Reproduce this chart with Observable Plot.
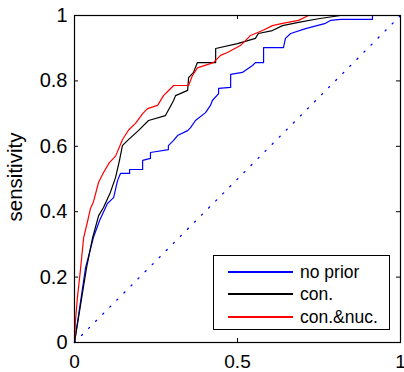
<!DOCTYPE html>
<html><head><meta charset="utf-8">
<script src="https://cdn.jsdelivr.net/npm/d3@7"></script>
<script src="https://cdn.jsdelivr.net/npm/@observablehq/plot@0.6"></script>
<style>
body{margin:0;background:#fff;font-family:"Liberation Sans",Arial,sans-serif}
#wrap{position:relative;width:404px;height:372px;overflow:hidden}
#legend{position:absolute;left:213px;top:255px;width:175px;height:73px;border:1px solid #000;background:#fff}
.row{position:absolute;left:0;width:175px;height:20px}
.ln{position:absolute;left:14px;width:65px;top:9px;height:1.5px}
.tx{position:absolute;left:86px;top:0;font-size:17.5px;line-height:20px;color:#000;white-space:nowrap}
#ylab{position:absolute;left:15px;top:177px;transform:translate(-50%,-50%) rotate(-90deg);font-size:20.5px;line-height:20.5px;white-space:nowrap;color:#000}
</style></head>
<body>
<div id="wrap"><div id="chart"></div><div id="ylab"></div><div id="legend"></div></div>
<script>
const seriesNames = ["no prior", "con.", "con.&nuc."];
const seriesColors = ["#0000ff", "#000000", "#ff0000"];

const noPriorFpr = [0,0.034,0.058,0.077,0.101,0.12,0.132,0.141,0.169,0.169,0.209,0.209,0.233,0.233,0.288,0.288,0.304,0.316,0.347,0.356,0.371,0.402,0.417,0.423,0.442,0.442,0.479,0.479,0.515,0.546,0.555,0.58,0.58,0.641,0.647,0.663,0.709,0.77,0.785,0.816,0.914,0.914,1];
const noPriorTpr = [0,0.229,0.321,0.373,0.425,0.443,0.495,0.517,0.517,0.529,0.529,0.557,0.563,0.581,0.59,0.602,0.618,0.633,0.648,0.657,0.679,0.703,0.725,0.74,0.761,0.777,0.78,0.82,0.826,0.847,0.856,0.856,0.902,0.902,0.93,0.945,0.96,0.976,0.985,0.988,0.988,1,1];

const conFpr = [0,0.037,0.055,0.074,0.089,0.11,0.126,0.138,0.147,0.163,0.196,0.227,0.279,0.304,0.31,0.347,0.35,0.365,0.377,0.433,0.433,0.5,0.555,0.564,0.607,0.638,0.687,0.748,0.816,1];
const conTpr = [0,0.229,0.318,0.388,0.413,0.459,0.505,0.557,0.602,0.618,0.648,0.679,0.694,0.74,0.755,0.771,0.81,0.826,0.856,0.856,0.899,0.914,0.93,0.945,0.954,0.969,0.979,0.99,1,1];

const conNucFpr = [0,0.003,0.009,0.018,0.028,0.04,0.049,0.058,0.074,0.089,0.107,0.126,0.147,0.166,0.187,0.209,0.224,0.255,0.273,0.288,0.304,0.35,0.362,0.377,0.426,0.448,0.469,0.509,0.54,0.577,0.607,0.638,0.687,0.718,1];
const conNucTpr = [0,0.067,0.138,0.22,0.32,0.37,0.41,0.43,0.49,0.52,0.55,0.57,0.62,0.65,0.67,0.70,0.715,0.725,0.755,0.77,0.786,0.786,0.817,0.84,0.856,0.878,0.887,0.908,0.939,0.954,0.969,0.976,0.985,1,1];

const diagX = [0, 1];
const diagY = [0, 1];
const xTicks = [0, 0.5, 1];
const yTicks = [0, 0.2, 0.4, 0.6, 0.8, 1];
const yLabel = "sensitivity";

const W = 404, H = 372, mL = 74, mR = 4, mT = 15, mB = 30;
const iW = W - mL - mR, iH = H - mT - mB, tk = 4;

const fprs = [noPriorFpr, conFpr, conNucFpr];
const tprs = [noPriorTpr, conTpr, conNucTpr];
const rows = [];
seriesNames.forEach((s, i) => fprs[i].forEach((f, j) => rows.push({series: s, fpr: f, tpr: tprs[i][j]})));
const diag = diagX.map((x, i) => ({x, y: diagY[i]}));

const chart = Plot.plot({
  width: W, height: H,
  marginLeft: mL, marginRight: mR, marginTop: mT, marginBottom: mB,
  style: {fontFamily: '"Liberation Sans", Arial, sans-serif', background: "#fff", color: "#000"},
  x: {domain: [0, 1]},
  y: {domain: [0, 1]},
  color: {domain: seriesNames, range: seriesColors},
  marks: [
    Plot.line(diag, {x: "x", y: "y", stroke: "#0000ff", strokeWidth: 1.3, strokeDasharray: "1.3,8.7"}),
    Plot.line(rows, {x: "fpr", y: "tpr", z: "series", stroke: "series", strokeWidth: 1.2}),
    Plot.frame({stroke: "#000", strokeWidth: 1.2}),
    Plot.tickX(xTicks, {x: d => d, insetTop: iH - tk, stroke: "#000"}),
    Plot.tickX(xTicks, {x: d => d, insetBottom: iH - tk, stroke: "#000"}),
    Plot.tickY(yTicks, {y: d => d, insetRight: iW - tk, stroke: "#000"}),
    Plot.tickY(yTicks, {y: d => d, insetLeft: iW - tk, stroke: "#000"}),
    Plot.axisX({ticks: xTicks, tickSize: 0, tickPadding: 12, fontSize: 19, label: null, tickFormat: d => String(d)}),
    Plot.axisY({ticks: yTicks, tickSize: 0, tickPadding: 7, fontSize: 20, label: null, tickFormat: d => String(d)})
  ]
});
document.getElementById("chart").appendChild(chart);
document.getElementById("ylab").textContent = yLabel;

const leg = document.getElementById("legend");
const rowTops = [6, 28, 51];
seriesNames.forEach((s, i) => {
  const r = document.createElement("div");
  r.className = "row"; r.style.top = rowTops[i] + "px";
  const l = document.createElement("div"); l.className = "ln"; l.style.background = seriesColors[i];
  const t = document.createElement("div"); t.className = "tx"; t.textContent = s;
  r.appendChild(l); r.appendChild(t); leg.appendChild(r);
});
</script>
</body></html>
